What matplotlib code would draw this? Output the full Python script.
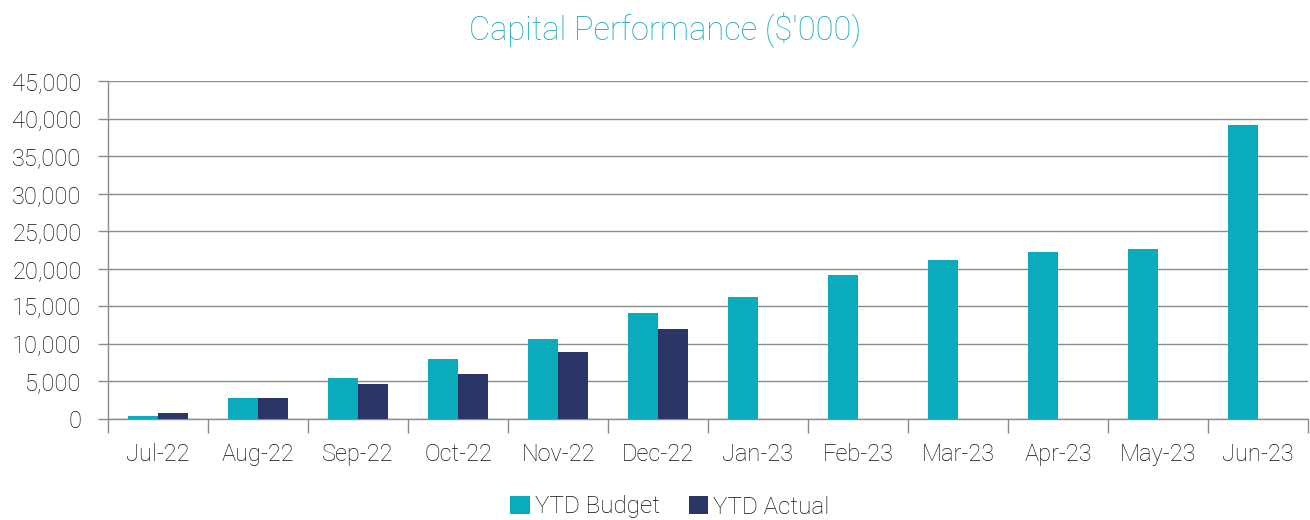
import numpy as np
import matplotlib
matplotlib.use("Agg")
import matplotlib.pyplot as plt
from matplotlib.ticker import FuncFormatter

months = ["Jul-22", "Aug-22", "Sep-22", "Oct-22", "Nov-22", "Dec-22",
          "Jan-23", "Feb-23", "Mar-23", "Apr-23", "May-23", "Jun-23"]
ytd_budget = [400, 2750, 5400, 8000, 10650, 14050, 16250, 19200, 21200, 22250, 22650, 39150]
ytd_actual = [750, 2750, 4600, 6000, 8900, 11950, np.nan, np.nan, np.nan, np.nan, np.nan, np.nan]

plt.rcParams['font.family'] = ['Roboto', 'DejaVu Sans']
plt.rcParams['font.weight'] = 'light'

teal = "#0AABBA"
navy = "#2B3566"
grid_col = "#8C8C8C"
text_col = "#0D0D0D"

fig = plt.figure(figsize=(13.1, 5.2), dpi=100)
ax = fig.add_axes([108 / 1310, 1 - 419 / 520, 1200 / 1310, 338 / 520])

x = np.arange(len(months))
w = 0.3
ax.bar(x - w / 2, ytd_budget, w, color=teal, label="YTD Budget", zorder=3)
ax.bar(x + w / 2, ytd_actual, w, color=navy, label="YTD Actual", zorder=3)

ax.set_xlim(-0.5, len(months) - 0.5)
ax.set_ylim(0, 45000)
ax.set_yticks(np.arange(0, 45001, 5000))
ax.yaxis.set_major_formatter(FuncFormatter(lambda v, p: f"{v:,.0f}"))
ax.yaxis.grid(True, color=grid_col, linewidth=1, zorder=0)

# category labels centered, ticks on boundaries
ax.set_xticks(np.arange(-0.5, len(months)), minor=False)
ax.set_xticklabels([])
ax.set_xticks(x, minor=True)
ax.set_xticklabels(months, minor=True)
ax.tick_params(axis='x', which='major', length=10, color=grid_col, width=1)
ax.tick_params(axis='x', which='minor', length=0, pad=17, labelsize=17, labelcolor=text_col)
ax.tick_params(axis='y', length=7, color=grid_col, width=1, pad=12, labelsize=17, labelcolor=text_col)

for s in ["top", "right"]:
    ax.spines[s].set_visible(False)
for s in ["left", "bottom"]:
    ax.spines[s].set_color(grid_col)
    ax.spines[s].set_linewidth(1)

fig.text(665 / 1310, 1 - 30 / 520, "Capital Performance ($'000)", color="#1AAAB8",
         fontsize=23.5, ha="center", va="center")

fig.legend(loc="center", bbox_to_anchor=(670 / 1310, 1 - 507 / 520), ncol=2, frameon=False,
           fontsize=17.5, handlelength=0.8, handleheight=0.8, handletextpad=0.2,
           columnspacing=1.2, labelcolor=text_col)

fig.savefig("out.png", dpi=100)
